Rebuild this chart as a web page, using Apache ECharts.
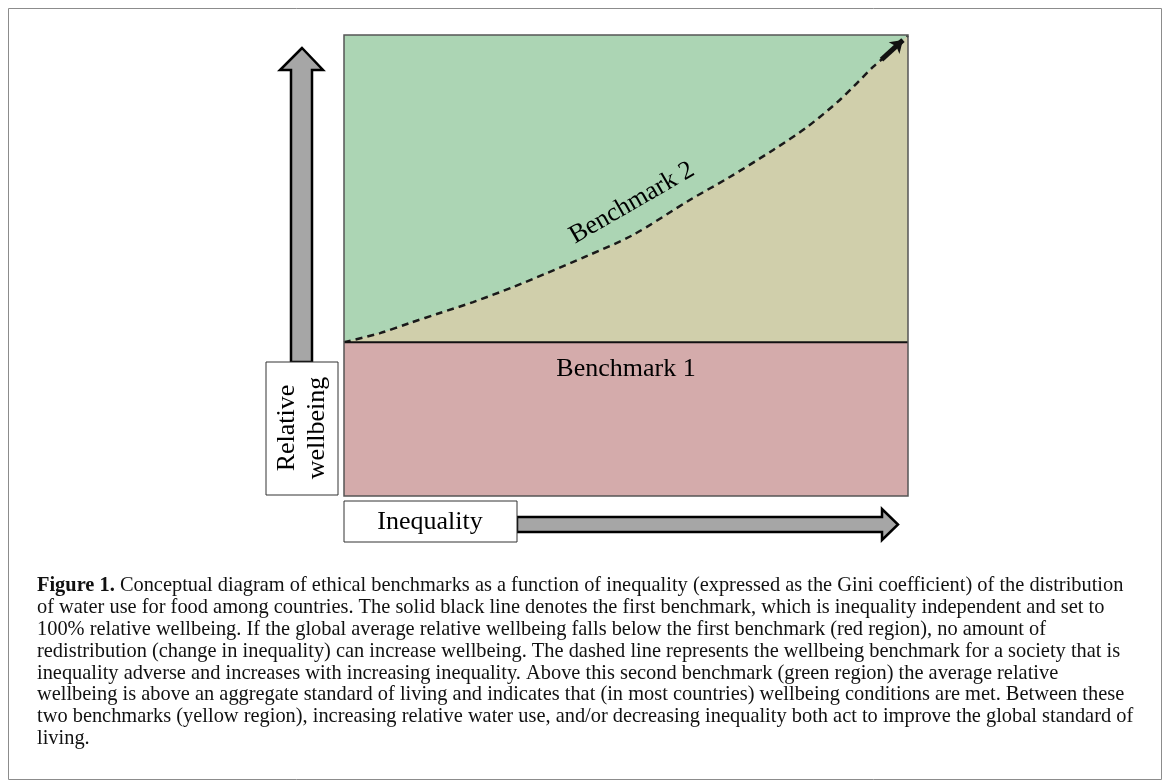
<!DOCTYPE html>
<html>
<head>
<meta charset="utf-8">
<script src="https://cdn.jsdelivr.net/npm/echarts@6/dist/echarts.min.js"></script>
<style>
  html, body { margin: 0; padding: 0; background: #fff; }
  #chart { width: 1171px; height: 782px; }
</style>
</head>
<body>
<div id="chart"></div>
<script>
// inequality (Gini, 0..1) vs relative wellbeing (%), benchmark 1 = 100%
const benchmark1 = [[0, 100], [1, 100]];
const benchmark2 = [
  [0, 100], [0.064, 106], [0.117, 112.6], [0.17, 119.1], [0.229, 126.2],
  [0.3, 136], [0.36, 145.1], [0.431, 156.2], [0.512, 169.8], [0.613, 192.6],
  [0.684, 207.6], [0.761, 225.2], [0.821, 240.1], [0.879, 257.7], [0.938, 279.2],
  [0.956, 285], [0.991, 296.7], [1, 299.5]
];
const arrowFrom = [0.953, 284];
const arrowTo = [0.991, 296.7];

const captionLines = [
  'Conceptual diagram of ethical benchmarks as a function of inequality (expressed as the Gini coefficient) of the distribution',
  'of water use for food among countries. The solid black line denotes the first benchmark, which is inequality independent and set to',
  '100% relative wellbeing. If the global average relative wellbeing falls below the first benchmark (red region), no amount of',
  'redistribution (change in inequality) can increase wellbeing. The dashed line represents the wellbeing benchmark for a society that is',
  'inequality adverse and increases with increasing inequality. Above this second benchmark (green region) the average relative',
  'wellbeing is above an aggregate standard of living and indicates that (in most countries) wellbeing conditions are met. Between these',
  'two benchmarks (yellow region), increasing relative water use, and/or decreasing inequality both act to improve the global standard of',
  'living.'
];

const GREEN = '#acd5b4';
const TAN = '#d0cfab';
const RED = '#d4abab';
const GREY = '#a6a6a6';
const serif = '"Liberation Serif", "DejaVu Serif", serif';

const chart = echarts.init(document.getElementById('chart'));

let graphics = [
  // outer frame
  { type: 'rect', shape: { x: 8.5, y: 8.5, width: 1153, height: 771 },
    style: { fill: 'none', stroke: '#8c8c8c', lineWidth: 1 }, z: 1 },
  // plot border
  { type: 'rect', shape: { x: 344, y: 35, width: 564, height: 461 },
    style: { fill: 'none', stroke: '#555', lineWidth: 1.5 }, z: 50 },
  // vertical arrow
  { type: 'polygon', z: 50,
    shape: { points: [[302, 48], [280, 70], [291, 70], [291, 362], [312, 362], [312, 70], [323, 70]] },
    style: { fill: GREY, stroke: '#000', lineWidth: 2.5 } },
  { type: 'rect', z: 51, shape: { x: 266, y: 362, width: 72, height: 133 },
    style: { fill: '#fff', stroke: '#333', lineWidth: 1 } },
  { type: 'text', z: 52, x: 302, y: 428, rotation: Math.PI / 2,
    style: { text: 'Relative\nwellbeing', fontFamily: serif, fontSize: 26, lineHeight: 30,
      fill: '#000', align: 'center', verticalAlign: 'middle' } },
  // horizontal arrow
  { type: 'polygon', z: 50,
    shape: { points: [[517, 517], [882, 517], [882, 509], [898, 524.5], [882, 540], [882, 532], [517, 532]] },
    style: { fill: GREY, stroke: '#000', lineWidth: 2.5 } },
  { type: 'rect', z: 51, shape: { x: 344, y: 501, width: 173, height: 41 },
    style: { fill: '#fff', stroke: '#333', lineWidth: 1 } },
  { type: 'text', z: 52, x: 430, y: 522,
    style: { text: 'Inequality', fontFamily: serif, fontSize: 26, fill: '#000',
      align: 'center', verticalAlign: 'middle' } },
  // region labels
  { type: 'text', z: 52, x: 626, y: 369,
    style: { text: 'Benchmark 1', fontFamily: serif, fontSize: 26, fill: '#000',
      align: 'center', verticalAlign: 'middle' } },
  { type: 'text', z: 52, x: 632, y: 203, rotation: Math.PI / 6,
    style: { text: 'Benchmark 2', fontFamily: serif, fontSize: 26, fill: '#000',
      align: 'center', verticalAlign: 'middle' } }
];

// caption
captionLines.forEach((line, i) => {
  graphics.push({
    type: 'text', z: 52, x: 37, y: 586 + i * 21.8,
    style: {
      text: i === 0 ? '{b|Figure 1.} ' + line : line,
      fontFamily: serif, fontSize: 20.4, fill: '#111',
      align: 'left', verticalAlign: 'middle',
      rich: { b: { fontFamily: serif, fontSize: 20.4, fontWeight: 'bold', fill: '#111' } }
    }
  });
});

chart.setOption({
  animation: false,
  grid: { left: 344, right: 263, top: 35, bottom: 286, show: true,
    backgroundColor: GREEN, borderWidth: 0 },
  xAxis: { type: 'value', min: 0, max: 1, show: false },
  yAxis: { type: 'value', min: 0, max: 300, show: false },
  series: [
    {
      name: 'Benchmark 2', type: 'line', data: benchmark2, smooth: 0.3,
      symbol: 'none', z: 2,
      lineStyle: { color: '#1a1a1a', width: 2.5, type: [7, 5] },
      areaStyle: { color: TAN, opacity: 1, origin: 'start' },
      markLine: {
        silent: true, symbol: ['none', 'arrow'], symbolSize: [12, 12],
        label: { show: false },
        lineStyle: { color: '#111', width: 5, type: 'solid' },
        data: [[{ coord: arrowFrom }, { coord: arrowTo }]]
      }
    },
    {
      name: 'Benchmark 1', type: 'line', data: benchmark1, symbol: 'none', z: 3,
      lineStyle: { color: '#111', width: 2 },
      areaStyle: { color: RED, opacity: 1, origin: 'start' }
    }
  ],
  graphic: graphics
});
</script>
</body>
</html>
